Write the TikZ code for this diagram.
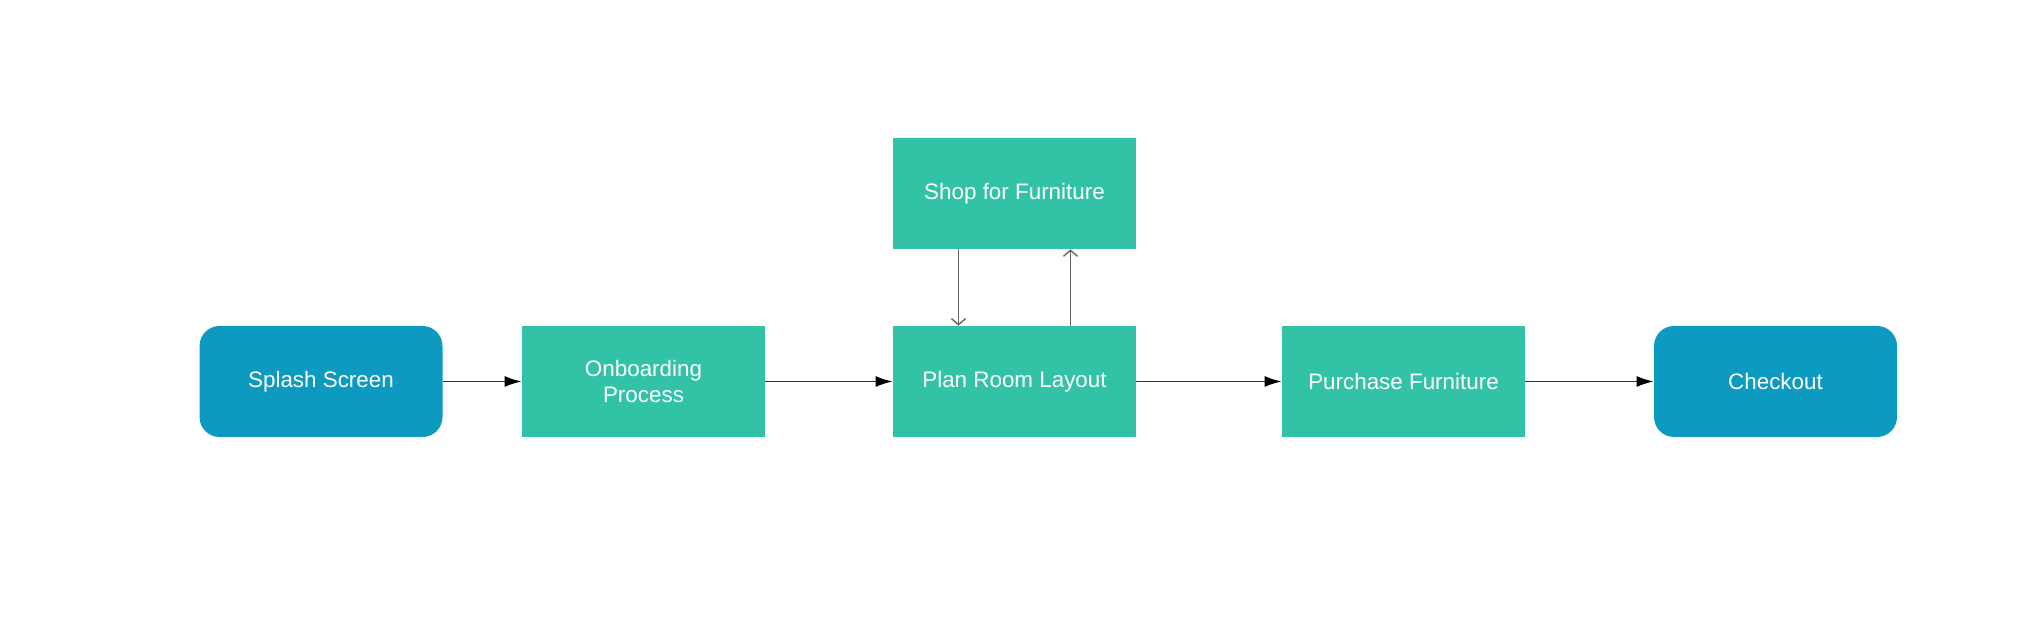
\documentclass[tikz,border=0pt]{standalone}
\usepackage{fontspec}
\setmainfont{Liberation Sans}
\usetikzlibrary{arrows.meta}
\definecolor{boxgreen}{HTML}{32C3A6}
\definecolor{boxblue}{HTML}{0D9AC0}
\definecolor{linegray}{HTML}{333333}
\definecolor{sidegray}{HTML}{666666}
\tikzset{
  procbox/.style={fill=boxgreen, draw=none, minimum width=121.5pt, minimum height=55.5pt,
    text=white, font=\fontsize{11.2pt}{13pt}\selectfont, align=center, inner sep=0pt},
  termbox/.style={procbox, fill=boxblue, rounded corners=10pt},
  flow/.style={draw=linegray, line width=0.7pt, -{Latex[length=8.5pt,width=5.5pt,fill=black,color=black]}},
  side/.style={draw=sidegray, line width=0.7pt, -{Straight Barb[length=3pt,width=7pt]}}
}
\begin{document}
\begin{tikzpicture}[x=1pt,y=1pt]
\useasboundingbox (0,0) rectangle (1019.5,312.5);
\node[termbox] (splash) at (160.5,121.75) {Splash Screen};
\node[procbox] (onb) at (321.75,121.75) {Onboarding\\Process};
\node[procbox] (plan) at (507.25,121.75) {Plan Room Layout};
\node[procbox] (shop) at (507.25,215.75) {Shop for Furniture};
\node[procbox] (purch) at (701.75,121.75) {Purchase Furniture};
\node[termbox] (check) at (887.75,121.75) {Checkout};
\draw[flow] (splash) -- (onb);
\draw[flow] (onb) -- (plan);
\draw[flow] (plan) -- (purch);
\draw[flow] (purch) -- (check);
\draw[side] ([xshift=-28pt]shop.south) -- ([xshift=-28pt]plan.north);
\draw[side] ([xshift=28pt]plan.north) -- ([xshift=28pt]shop.south);
\end{tikzpicture}
\end{document}
